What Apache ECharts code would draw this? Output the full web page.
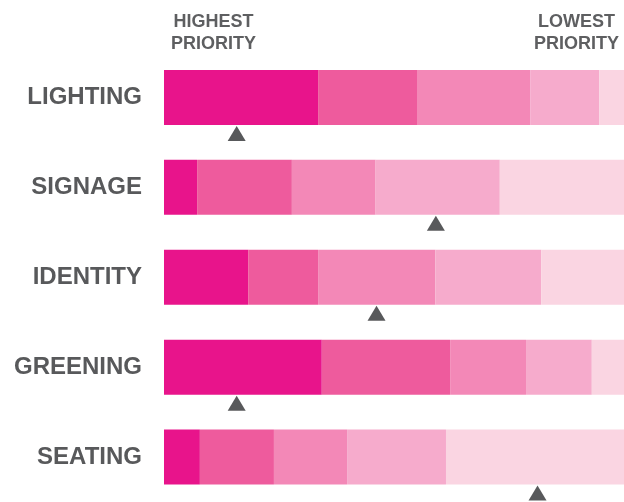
<!DOCTYPE html>
<html>
<head>
<meta charset="utf-8">
<style>
  html, body { margin: 0; padding: 0; background: #ffffff; }
  #chart { width: 624px; height: 502px; }
</style>
<script src="https://cdn.jsdelivr.net/npm/echarts@6/dist/echarts.min.js"></script>
</head>
<body>
<div id="chart"></div>
<script>
// Amenities ranked by respondents: share (%) of votes at each priority rank
const categories = ['LIGHTING', 'SIGNAGE', 'IDENTITY', 'GREENING', 'SEATING'];
const rank1 = [33.5, 7.2, 18.3, 34.3, 7.8];
const rank2 = [21.5, 20.6, 15.2, 27.9, 16.1];
const rank3 = [24.6, 18.2, 25.5, 16.5, 15.9];
const rank4 = [15.0, 27.0, 23.0, 14.3, 21.5];
const rank5 = [5.4, 27.0, 18.0, 7.0, 38.7];
// Average position on the same 0-100 scale (triangle markers)
const average = [15.8, 59.1, 46.2, 15.8, 81.2];
const headerLeft = 'HIGHEST\nPRIORITY';
const headerRight = 'LOWEST\nPRIORITY';

const rankColors = ['#E8148B', '#EE5B9D', '#F388B7', '#F6ABCC', '#FAD5E2'];
const ranks = [rank1, rank2, rank3, rank4, rank5];
const textColor = '#58595B';

const chart = echarts.init(document.getElementById('chart'), null, { renderer: 'canvas' });

const barSeries = ranks.map((vals, i) => ({
  type: 'bar',
  name: 'Rank ' + (i + 1),
  stack: 'rank',
  barWidth: 55,
  data: vals,
  itemStyle: { color: rankColors[i] },
  emphasis: { disabled: true },
  silent: true
}));

function header(text, cx) {
  return {
    type: 'text', x: cx, y: 11.5,
    style: {
      text: text, fill: '#5E5F61', align: 'center', verticalAlign: 'top',
      font: 'bold 18px "Liberation Sans"', lineHeight: 21.5
    }
  };
}

chart.setOption({
  animation: false,
  backgroundColor: '#ffffff',
  grid: { left: 164, right: 0, top: 52.5, height: 450, containLabel: false },
  xAxis: {
    type: 'value', min: 0, max: 100,
    show: false
  },
  yAxis: {
    type: 'category',
    data: categories,
    inverse: true,
    axisLine: { show: false },
    axisTick: { show: false },
    splitLine: { show: false },
    axisLabel: {
      margin: 22,
      color: textColor,
      fontFamily: 'Liberation Sans',
      fontWeight: 'bold',
      fontSize: 24
    }
  },
  series: barSeries.concat([{
    type: 'scatter',
    name: 'Average',
    symbol: 'triangle',
    symbolSize: [18, 15],
    symbolOffset: [0, 36],
    data: average.map((v, i) => [v, categories[i]]),
    itemStyle: { color: '#58595B', opacity: 1 },
    silent: true,
    z: 5
  }]),
  graphic: [header(headerLeft, 213.5), header(headerRight, 576.5)]
});
</script>
</body>
</html>
